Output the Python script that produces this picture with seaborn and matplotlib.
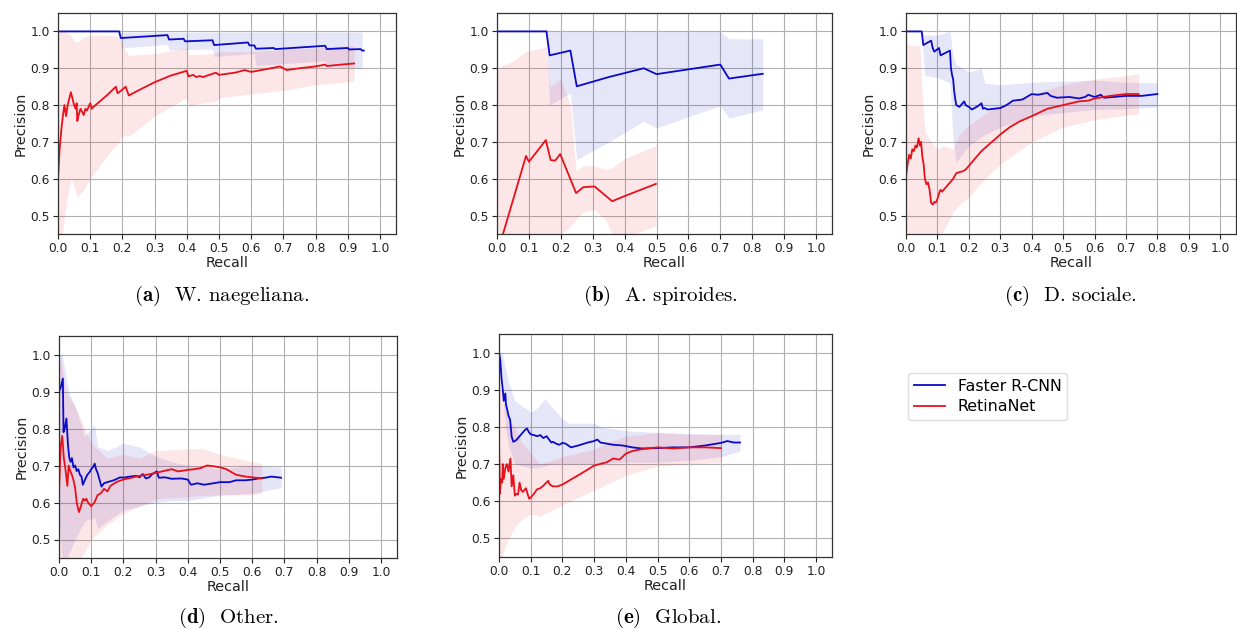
import numpy as np
import pandas as pd
import matplotlib
matplotlib.use("Agg")
import matplotlib.pyplot as plt
import seaborn as sns

# ---------------- data ----------------
panel_labels = ["(a)", "(b)", "(c)", "(d)", "(e)"]
panel_names = ["W. naegeliana.", "A. spiroides.", "D. sociale.", "Other.", "Global."]
model_names = ["Faster R-CNN", "RetinaNet"]
xticks = [0.0, 0.1, 0.2, 0.3, 0.4, 0.5, 0.6, 0.7, 0.8, 0.9, 1.0]
yticks = [0.5, 0.6, 0.7, 0.8, 0.9, 1.0]

# (a) W. naegeliana
a_frcnn_r = [0, 0.19, 0.195, 0.34, 0.345, 0.39, 0.395, 0.48, 0.485, 0.59, 0.595, 0.61, 0.615, 0.67, 0.675, 0.83, 0.835, 0.90, 0.905, 0.94, 0.945, 0.95]
a_frcnn_p = [1.0, 1.0, 0.982, 0.99, 0.978, 0.98, 0.973, 0.976, 0.963, 0.970, 0.962, 0.962, 0.953, 0.955, 0.952, 0.961, 0.952, 0.955, 0.951, 0.952, 0.948, 0.948]
a_frcnn_band_r = [0, 0.19, 0.195, 0.34, 0.345, 0.48, 0.485, 0.61, 0.615, 0.83, 0.835, 0.945]
a_frcnn_hi = [1.0, 1.0, 0.998, 0.998, 0.998, 0.998, 0.998, 0.998, 0.998, 0.998, 0.998, 0.998]
a_frcnn_lo = [1.0, 1.0, 0.955, 0.965, 0.950, 0.952, 0.932, 0.94, 0.908, 0.92, 0.905, 0.90]
a_retina_r = [0, 0.005, 0.01, 0.015, 0.02, 0.025, 0.03, 0.04, 0.05, 0.055, 0.058, 0.06, 0.063, 0.07, 0.08, 0.085, 0.09, 0.1, 0.105, 0.11, 0.13, 0.15, 0.18, 0.185, 0.2, 0.21, 0.22, 0.25, 0.3, 0.35, 0.4, 0.405, 0.42, 0.43, 0.44, 0.45, 0.49, 0.5, 0.55, 0.58, 0.6, 0.65, 0.69, 0.7, 0.71, 0.75, 0.8, 0.83, 0.835, 0.88, 0.92]
a_retina_p = [0.60, 0.68, 0.73, 0.77, 0.80, 0.77, 0.80, 0.835, 0.80, 0.79, 0.805, 0.757, 0.77, 0.79, 0.773, 0.79, 0.785, 0.805, 0.79, 0.795, 0.81, 0.825, 0.85, 0.832, 0.842, 0.85, 0.826, 0.84, 0.862, 0.88, 0.893, 0.878, 0.882, 0.876, 0.879, 0.876, 0.888, 0.882, 0.888, 0.895, 0.89, 0.898, 0.905, 0.90, 0.895, 0.90, 0.905, 0.91, 0.906, 0.91, 0.913]
a_retina_band_r = [0, 0.02, 0.04, 0.05, 0.06, 0.08, 0.1, 0.15, 0.19, 0.2, 0.22, 0.3, 0.4, 0.405, 0.49, 0.5, 0.6, 0.7, 0.8, 0.92]
a_retina_hi = [1.0, 1.0, 0.99, 0.975, 0.97, 0.985, 0.99, 0.99, 0.985, 0.96, 0.935, 0.94, 0.955, 0.937, 0.94, 0.945, 0.945, 0.95, 0.955, 0.962]
a_retina_lo = [0.30, 0.50, 0.60, 0.58, 0.55, 0.57, 0.60, 0.66, 0.70, 0.72, 0.715, 0.77, 0.82, 0.80, 0.81, 0.82, 0.83, 0.84, 0.855, 0.865]

# (b) A. spiroides
b_frcnn_r = [0, 0.155, 0.165, 0.23, 0.25, 0.35, 0.46, 0.5, 0.7, 0.727, 0.833]
b_frcnn_p = [1.0, 1.0, 0.935, 0.948, 0.851, 0.876, 0.90, 0.884, 0.91, 0.872, 0.885]
b_frcnn_band_r = [0, 0.155, 0.165, 0.23, 0.25, 0.35, 0.46, 0.5, 0.7, 0.727, 0.833]
b_frcnn_hi = [1.0, 1.0, 1.0, 1.0, 1.0, 1.0, 1.0, 1.0, 1.0, 0.98, 0.98]
b_frcnn_lo = [1.0, 1.0, 0.80, 0.833, 0.652, 0.70, 0.756, 0.738, 0.798, 0.765, 0.787]
b_retina_r = [0, 0.091, 0.1, 0.153, 0.168, 0.182, 0.198, 0.248, 0.27, 0.306, 0.361, 0.4, 0.498]
b_retina_p = [0.395, 0.662, 0.646, 0.705, 0.651, 0.649, 0.667, 0.561, 0.577, 0.579, 0.539, 0.553, 0.586]
b_retina_band_r = [0, 0.05, 0.09, 0.155, 0.165, 0.2, 0.23, 0.248, 0.27, 0.306, 0.34, 0.361, 0.4, 0.498]
b_retina_hi = [0.90, 0.92, 0.945, 0.958, 0.85, 0.87, 0.80, 0.62, 0.635, 0.635, 0.625, 0.63, 0.655, 0.69]
b_retina_lo = [0.20, 0.28, 0.35, 0.42, 0.44, 0.45, 0.47, 0.49, 0.51, 0.516, 0.49, 0.45, 0.44, 0.473]

# (c) D. sociale
c_frcnn_r = [0, 0.05, 0.055, 0.08, 0.085, 0.09, 0.105, 0.11, 0.14, 0.143, 0.147, 0.15, 0.153, 0.156, 0.16, 0.17, 0.185, 0.19, 0.2, 0.21, 0.23, 0.24, 0.245, 0.25, 0.26, 0.28, 0.3, 0.32, 0.34, 0.37, 0.4, 0.42, 0.45, 0.46, 0.48, 0.52, 0.55, 0.57, 0.58, 0.6, 0.62, 0.63, 0.66, 0.7, 0.75, 0.8]
c_frcnn_p = [1.0, 1.0, 0.963, 0.975, 0.955, 0.945, 0.955, 0.935, 0.948, 0.90, 0.88, 0.87, 0.84, 0.82, 0.80, 0.795, 0.81, 0.80, 0.795, 0.788, 0.798, 0.805, 0.79, 0.792, 0.788, 0.79, 0.792, 0.80, 0.812, 0.815, 0.83, 0.828, 0.833, 0.825, 0.82, 0.822, 0.818, 0.822, 0.828, 0.822, 0.828, 0.82, 0.822, 0.825, 0.825, 0.83]
c_frcnn_band_r = [0, 0.05, 0.06, 0.1, 0.14, 0.15, 0.16, 0.2, 0.24, 0.25, 0.3, 0.4, 0.5, 0.6, 0.7, 0.8]
c_frcnn_hi = [1.0, 1.0, 0.99, 0.99, 1.0, 0.93, 0.91, 0.89, 0.90, 0.86, 0.855, 0.862, 0.865, 0.868, 0.862, 0.86]
c_frcnn_lo = [1.0, 1.0, 0.88, 0.875, 0.86, 0.70, 0.645, 0.69, 0.715, 0.72, 0.74, 0.77, 0.78, 0.788, 0.79, 0.795]
c_retina_r = [0, 0.005, 0.01, 0.015, 0.02, 0.025, 0.03, 0.035, 0.04, 0.045, 0.048, 0.052, 0.056, 0.06, 0.065, 0.07, 0.075, 0.08, 0.085, 0.09, 0.095, 0.1, 0.105, 0.11, 0.115, 0.12, 0.13, 0.14, 0.15, 0.16, 0.17, 0.18, 0.19, 0.2, 0.22, 0.24, 0.26, 0.28, 0.3, 0.33, 0.36, 0.4, 0.45, 0.5, 0.55, 0.58, 0.6, 0.65, 0.7, 0.74]
c_retina_p = [0.605, 0.64, 0.665, 0.655, 0.68, 0.675, 0.69, 0.685, 0.71, 0.69, 0.70, 0.66, 0.64, 0.60, 0.585, 0.59, 0.57, 0.535, 0.53, 0.537, 0.535, 0.545, 0.56, 0.57, 0.565, 0.57, 0.58, 0.59, 0.60, 0.615, 0.618, 0.62, 0.625, 0.635, 0.655, 0.675, 0.69, 0.705, 0.72, 0.74, 0.755, 0.77, 0.79, 0.80, 0.81, 0.812, 0.818, 0.825, 0.83, 0.83]
c_retina_band_r = [0, 0.02, 0.04, 0.045, 0.05, 0.06, 0.08, 0.1, 0.12, 0.15, 0.17, 0.2, 0.25, 0.3, 0.4, 0.5, 0.6, 0.7, 0.74]
c_retina_hi = [0.97, 0.96, 0.965, 0.95, 0.85, 0.73, 0.70, 0.68, 0.69, 0.68, 0.72, 0.745, 0.775, 0.80, 0.83, 0.855, 0.87, 0.88, 0.885]
c_retina_lo = [0.30, 0.38, 0.44, 0.45, 0.43, 0.40, 0.38, 0.40, 0.46, 0.51, 0.53, 0.55, 0.60, 0.64, 0.70, 0.74, 0.76, 0.773, 0.775]

# (d) Other
d_frcnn_r = [0, 0.005, 0.012, 0.014, 0.018, 0.023, 0.028, 0.032, 0.036, 0.04, 0.045, 0.05, 0.055, 0.06, 0.065, 0.07, 0.074, 0.08, 0.088, 0.095, 0.1, 0.105, 0.111, 0.115, 0.12, 0.132, 0.14, 0.15, 0.17, 0.19, 0.2, 0.22, 0.24, 0.25, 0.26, 0.27, 0.28, 0.29, 0.304, 0.31, 0.33, 0.35, 0.38, 0.4, 0.41, 0.43, 0.45, 0.48, 0.5, 0.53, 0.55, 0.58, 0.6, 0.62, 0.64, 0.66, 0.69]
d_frcnn_p = [0.90, 0.91, 0.935, 0.79, 0.80, 0.827, 0.755, 0.72, 0.71, 0.72, 0.695, 0.70, 0.685, 0.69, 0.675, 0.67, 0.648, 0.66, 0.675, 0.682, 0.69, 0.695, 0.705, 0.69, 0.68, 0.643, 0.652, 0.655, 0.66, 0.668, 0.667, 0.67, 0.672, 0.668, 0.677, 0.665, 0.668, 0.677, 0.684, 0.667, 0.668, 0.664, 0.665, 0.662, 0.648, 0.652, 0.648, 0.652, 0.655, 0.655, 0.66, 0.66, 0.662, 0.665, 0.667, 0.67, 0.667]
d_frcnn_band_r = [0, 0.01, 0.02, 0.03, 0.05, 0.08, 0.11, 0.12, 0.15, 0.2, 0.25, 0.3, 0.35, 0.4, 0.5, 0.6, 0.69]
d_frcnn_hi = [1.0, 1.0, 0.95, 0.90, 0.86, 0.78, 0.81, 0.75, 0.74, 0.76, 0.75, 0.725, 0.71, 0.70, 0.69, 0.70, 0.695]
d_frcnn_lo = [0.55, 0.45, 0.44, 0.46, 0.50, 0.55, 0.56, 0.53, 0.55, 0.58, 0.59, 0.60, 0.605, 0.605, 0.62, 0.625, 0.64]
d_retina_r = [0, 0.005, 0.01, 0.015, 0.02, 0.026, 0.03, 0.035, 0.04, 0.045, 0.05, 0.055, 0.062, 0.068, 0.075, 0.08, 0.085, 0.09, 0.1, 0.11, 0.12, 0.13, 0.14, 0.15, 0.16, 0.18, 0.2, 0.23, 0.25, 0.28, 0.3, 0.32, 0.35, 0.37, 0.4, 0.42, 0.44, 0.46, 0.48, 0.5, 0.52, 0.55, 0.58, 0.6, 0.63]
d_retina_p = [0.63, 0.75, 0.78, 0.72, 0.69, 0.645, 0.70, 0.685, 0.675, 0.66, 0.64, 0.60, 0.574, 0.59, 0.61, 0.605, 0.61, 0.60, 0.59, 0.60, 0.62, 0.625, 0.637, 0.63, 0.645, 0.656, 0.662, 0.668, 0.672, 0.676, 0.68, 0.684, 0.69, 0.684, 0.688, 0.69, 0.693, 0.70, 0.698, 0.695, 0.69, 0.675, 0.67, 0.668, 0.665]
d_retina_band_r = [0, 0.005, 0.02, 0.05, 0.1, 0.15, 0.2, 0.25, 0.3, 0.4, 0.45, 0.5, 0.6, 0.63]
d_retina_hi = [0.95, 1.0, 0.90, 0.86, 0.76, 0.72, 0.73, 0.72, 0.74, 0.745, 0.745, 0.73, 0.71, 0.705]
d_retina_lo = [0.35, 0.35, 0.38, 0.42, 0.50, 0.54, 0.57, 0.59, 0.61, 0.615, 0.62, 0.62, 0.62, 0.625]

# (e) Global
e_frcnn_r = [0, 0.004, 0.008, 0.012, 0.015, 0.02, 0.022, 0.025, 0.03, 0.035, 0.04, 0.045, 0.05, 0.055, 0.06, 0.07, 0.08, 0.088, 0.095, 0.1, 0.11, 0.12, 0.13, 0.14, 0.15, 0.165, 0.17, 0.18, 0.19, 0.2, 0.21, 0.227, 0.25, 0.28, 0.3, 0.31, 0.32, 0.34, 0.36, 0.39, 0.42, 0.45, 0.5, 0.55, 0.6, 0.65, 0.7, 0.72, 0.74, 0.76]
e_frcnn_p = [1.0, 0.98, 0.93, 0.90, 0.87, 0.89, 0.86, 0.85, 0.83, 0.82, 0.773, 0.76, 0.762, 0.765, 0.77, 0.78, 0.79, 0.796, 0.785, 0.78, 0.778, 0.775, 0.778, 0.77, 0.775, 0.758, 0.76, 0.755, 0.752, 0.757, 0.755, 0.745, 0.75, 0.758, 0.762, 0.766, 0.758, 0.755, 0.752, 0.75, 0.745, 0.742, 0.743, 0.745, 0.745, 0.75, 0.757, 0.762, 0.758, 0.758]
e_frcnn_band_r = [0, 0.01, 0.02, 0.03, 0.05, 0.1, 0.12, 0.145, 0.16, 0.2, 0.22, 0.3, 0.32, 0.4, 0.5, 0.6, 0.7, 0.76]
e_frcnn_hi = [1.0, 1.0, 0.96, 0.92, 0.87, 0.84, 0.85, 0.876, 0.86, 0.822, 0.81, 0.81, 0.80, 0.79, 0.785, 0.782, 0.78, 0.78]
e_frcnn_lo = [1.0, 0.90, 0.80, 0.75, 0.70, 0.69, 0.69, 0.695, 0.70, 0.70, 0.70, 0.70, 0.703, 0.705, 0.705, 0.71, 0.72, 0.735]
e_retina_r = [0, 0.003, 0.006, 0.01, 0.012, 0.015, 0.02, 0.025, 0.03, 0.036, 0.04, 0.045, 0.05, 0.055, 0.06, 0.065, 0.07, 0.075, 0.08, 0.085, 0.09, 0.095, 0.1, 0.11, 0.12, 0.13, 0.14, 0.155, 0.16, 0.17, 0.185, 0.2, 0.23, 0.26, 0.3, 0.34, 0.36, 0.38, 0.4, 0.42, 0.45, 0.5, 0.55, 0.6, 0.65, 0.7]
e_retina_p = [0.755, 0.62, 0.66, 0.65, 0.70, 0.66, 0.69, 0.70, 0.68, 0.715, 0.64, 0.67, 0.615, 0.62, 0.618, 0.65, 0.63, 0.625, 0.63, 0.635, 0.62, 0.607, 0.61, 0.62, 0.632, 0.635, 0.642, 0.655, 0.645, 0.64, 0.64, 0.645, 0.66, 0.675, 0.696, 0.705, 0.715, 0.712, 0.728, 0.735, 0.74, 0.745, 0.742, 0.745, 0.745, 0.743]
e_retina_band_r = [0, 0.005, 0.03, 0.05, 0.07, 0.1, 0.13, 0.2, 0.3, 0.35, 0.4, 0.5, 0.6, 0.7]
e_retina_hi = [0.95, 0.90, 0.82, 0.80, 0.76, 0.73, 0.70, 0.72, 0.74, 0.76, 0.775, 0.785, 0.78, 0.78]
e_retina_lo = [0.45, 0.44, 0.50, 0.53, 0.55, 0.566, 0.56, 0.59, 0.63, 0.65, 0.67, 0.695, 0.70, 0.705]

panels = [
    (a_frcnn_r, a_frcnn_p, a_frcnn_band_r, a_frcnn_lo, a_frcnn_hi, a_retina_r, a_retina_p, a_retina_band_r, a_retina_lo, a_retina_hi),
    (b_frcnn_r, b_frcnn_p, b_frcnn_band_r, b_frcnn_lo, b_frcnn_hi, b_retina_r, b_retina_p, b_retina_band_r, b_retina_lo, b_retina_hi),
    (c_frcnn_r, c_frcnn_p, c_frcnn_band_r, c_frcnn_lo, c_frcnn_hi, c_retina_r, c_retina_p, c_retina_band_r, c_retina_lo, c_retina_hi),
    (d_frcnn_r, d_frcnn_p, d_frcnn_band_r, d_frcnn_lo, d_frcnn_hi, d_retina_r, d_retina_p, d_retina_band_r, d_retina_lo, d_retina_hi),
    (e_frcnn_r, e_frcnn_p, e_frcnn_band_r, e_frcnn_lo, e_frcnn_hi, e_retina_r, e_retina_p, e_retina_band_r, e_retina_lo, e_retina_hi),
]

# ---------------- style ----------------
plt.rcParams['font.family'] = ['DejaVu Sans']
plt.rcParams['mathtext.fontset'] = 'cm'
plt.rcParams['axes.formatter.use_mathtext'] = True

W, H = 1237, 629
fig = plt.figure(figsize=(W / 100, H / 100), dpi=100)
fig.patch.set_facecolor('white')

def fr(l, t, r, b):
    return [l / W, 1 - b / H, (r - l) / W, (b - t) / H]

ax_boxes = [fr(58, 13, 396, 234), fr(497, 13, 832, 234), fr(906, 13, 1236, 234),
            fr(59, 336, 397, 558), fr(499, 334, 832, 557)]
caption_pos = [(222, 296), (660, 296), (1070, 296), (228, 618), (668, 618)]

blue = '#0a0ac8'
red = '#e8101a'

handles = []
for i, box in enumerate(ax_boxes):
    ax = fig.add_axes(box)
    (fr_r, fr_p, fr_br, fr_lo, fr_hi, rt_r, rt_p, rt_br, rt_lo, rt_hi) = panels[i]
    ax.fill_between(fr_br, fr_lo, fr_hi, color=blue, alpha=0.1, linewidth=0)
    ax.fill_between(rt_br, rt_lo, rt_hi, color=red, alpha=0.1, linewidth=0)
    sns.lineplot(x=fr_r, y=fr_p, ax=ax, color=blue, linewidth=1.3, sort=False, estimator=None)
    sns.lineplot(x=rt_r, y=rt_p, ax=ax, color=red, linewidth=1.3, sort=False, estimator=None)
    if i == 0:
        handles = ax.get_lines()[:2]
    ax.set_xlim(0, 1.05)
    ax.set_ylim(0.45, 1.05)
    ax.set_xticks(xticks)
    ax.set_yticks(yticks)
    ax.set_xticklabels([f"{v:.1f}" for v in xticks])
    ax.set_yticklabels([f"{v:.1f}" for v in yticks])
    ax.grid(True, color='#b0b0b0', linewidth=0.8)
    ax.set_axisbelow(True)
    ax.tick_params(labelsize=8.8, colors='#222222', length=3.5, width=0.8, pad=2.5)
    for s in ax.spines.values():
        s.set_color('#333333')
        s.set_linewidth(0.9)
    ax.set_xlabel('Recall', fontsize=10.4, labelpad=0.5, color='#222222')
    ax.set_ylabel('Precision', fontsize=10.4, labelpad=2, color='#222222')
    cx, cy = caption_pos[i]
    fig.text(cx / W, 1 - cy / H,
             r"$\mathbf{" + panel_labels[i] + r"}$  " + panel_names[i],
             ha='center', va='center', fontsize=15, family='cmr10')

fig.legend(handles, model_names, loc='upper left',
           bbox_to_anchor=(908 / W, 1 - 373 / H), borderaxespad=0,
           fontsize=11.4, frameon=True, fancybox=True, framealpha=1,
           edgecolor='#dddddd', handlelength=2.0, handletextpad=0.8,
           borderpad=0.35, labelspacing=0.35)

fig.savefig('out.png', dpi=100, facecolor='white')
